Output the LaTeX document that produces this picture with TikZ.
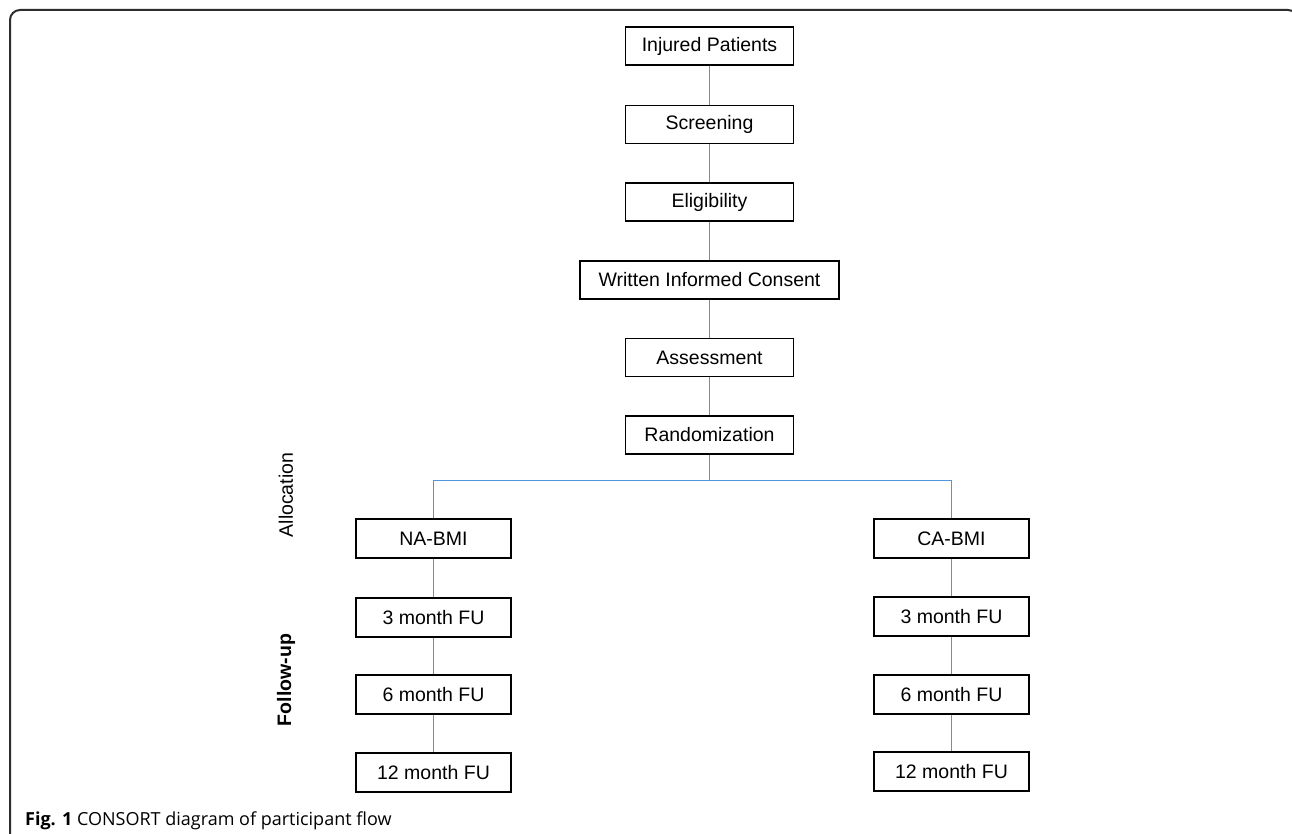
\documentclass[tikz,border=0pt]{standalone}
\usepackage{fontspec}
\setmainfont{Liberation Sans}
\newfontfamily\captionfont{Open Sans}
\usetikzlibrary{positioning}
\definecolor{linkblue}{RGB}{80,150,220}
\definecolor{framegray}{RGB}{45,45,45}

\begin{document}
\begin{tikzpicture}[x=1pt, y=-1pt,
    box/.style={draw, line width=1.2pt, minimum width=168pt, minimum height=38pt, inner sep=0pt, font=\fontsize{19.5}{22}\selectfont},
    arm/.style={box, minimum width=155pt, minimum height=39pt},
    link/.style={draw=linkblue, line width=1.4pt},
    side/.style={rotate=90, inner sep=0pt, font=\fontsize{19.5}{22}\selectfont}
  ]
  \useasboundingbox (0,0) rectangle (1292,834);
  \draw[framegray, line width=2pt, rounded corners=10pt] (10,845) -- (10,10) -- (1298,10) -- (1298,845);

  % main column
  \node[box] (injured) at (709.5,46) {Injured Patients};
  \node[box] (screen) at (709.5,124.5) {Screening};
  \node[box] (elig) at (709.5,202) {Eligibility};
  \node[box, minimum width=259pt] (consent) at (709.5,280) {Written Informed Consent};
  \node[box] (assess) at (709.5,357.5) {Assessment};
  \node[box] (rand) at (709.5,435) {Randomization};
  \draw[link] (injured) -- (screen);
  \draw[link] (screen) -- (elig);
  \draw[link] (elig) -- (consent);
  \draw[link] (consent) -- (assess);
  \draw[link] (assess) -- (rand);

  % arms
  \node[arm] (nabmi) at (433.5,538.5) {NA-BMI};
  \node[arm] (na3) at (433.5,617.5) {3 month FU};
  \node[arm] (na6) at (433.5,694.5) {6 month FU};
  \node[arm] (na12) at (433.5,772.5) {12 month FU};
  \node[arm] (cabmi) at (951.5,538.5) {CA-BMI};
  \node[arm] (ca3) at (951.5,616.5) {3 month FU};
  \node[arm] (ca6) at (951.5,694.5) {6 month FU};
  \node[arm] (ca12) at (951.5,771.5) {12 month FU};

  \coordinate (split) at (709.5,480.5);
  \draw[link] (rand) -- (split);
  \draw[link] (split) -| (nabmi);
  \draw[link] (split) -| (cabmi);
  \draw[link] (nabmi) -- (na3);
  \draw[link] (na3) -- (na6);
  \draw[link] (na6) -- (na12);
  \draw[link] (cabmi) -- (ca3);
  \draw[link] (ca3) -- (ca6);
  \draw[link] (ca6) -- (ca12);

  % stage labels
  \node[side] (alloc) at (286,495) {Allocation};
  \node[side, font=\fontsize{19.5}{22}\selectfont\bfseries] (follow) at (286,680) {Follow-up};

  \node[anchor=base west, inner sep=0pt, font=\captionfont\fontsize{18}{20}\selectfont] (caption) at (25,825) {\textbf{Fig. 1} CONSORT diagram of participant flow};
\end{tikzpicture}
\end{document}
